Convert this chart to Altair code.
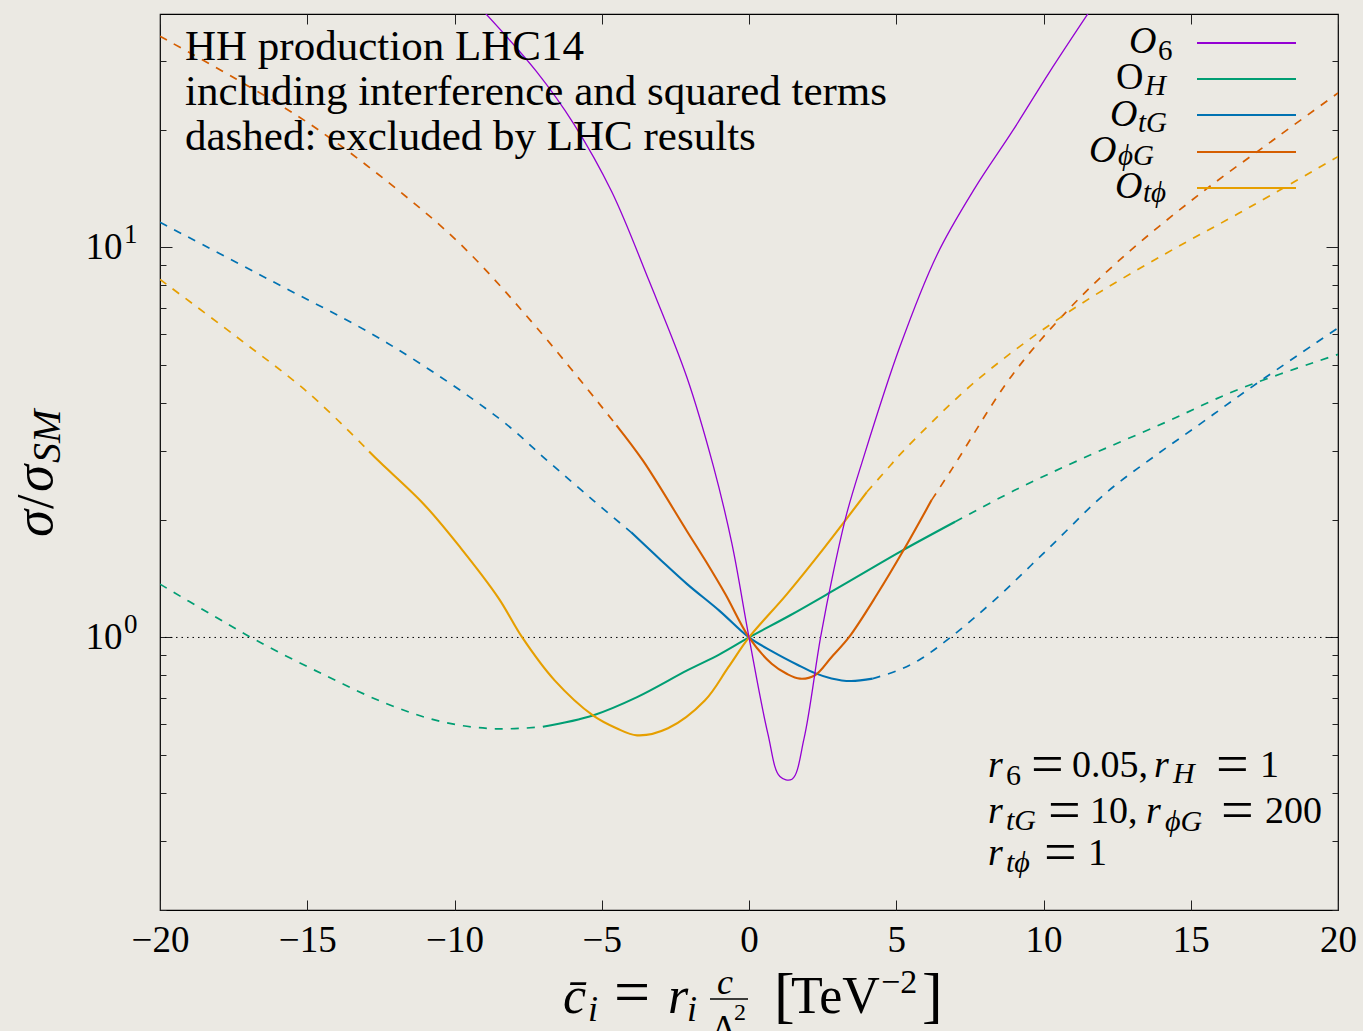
import altair as alt
import pandas as pd

# ---------------- data ----------------
SERIES = ["O6", "OH", "OtG", "OphiG", "Otphi"]
COLORS = ["#9400d3", "#009e73", "#0072b2", "#d55e00", "#e69f00"]

O6_x = [-9.1, -7.22, -5.94, -4.66, -3.39, -2.11, -1.21, -0.58, 0.0, 0.64, 1.05, 1.46, 1.87,
        2.43, 2.88, 3.32, 3.83, 5.11, 6.39, 7.67, 8.95, 10.22, 11.55]
O6_y = [41.0, 28.3, 20.7, 13.9, 8.2, 4.65, 2.75, 1.74, 1.0, 0.567, 0.44, 0.433, 0.551,
        1.0, 1.49, 2.08, 2.80, 5.53, 9.6, 14.2, 19.9, 28.3, 40.2]
O6_solid = (-100.0, 100.0)

OH_x = [-20.0, -18.3, -16.7, -14.4, -12.3, -10.4, -8.6, -7.0, -5.3, -3.8, -2.1, -1.0, 0.0,
        1.4, 2.8, 4.2, 5.2, 7.0, 9.0, 11.25, 14.1, 16.6, 20.0]
OH_y = [1.37, 1.15, 0.98, 0.80, 0.676, 0.607, 0.583, 0.59, 0.631, 0.703, 0.823, 0.905, 1.0,
        1.14, 1.31, 1.51, 1.67, 1.98, 2.38, 2.86, 3.55, 4.32, 5.32]
OH_solid = (-7.0, 7.0)

OtG_x = [-20.0, -16.2, -12.3, -8.5, -6.8, -5.3, -4.0, -3.0, -2.1, -1.0, 0.0, 0.8, 1.66, 2.24,
         2.8, 3.45, 4.2, 5.0, 5.75, 6.84, 8.3, 10.2, 12.1, 13.7, 15.3, 17.0, 20.0]
OtG_y = [11.6, 8.2, 5.70, 3.65, 2.82, 2.25, 1.86, 1.58, 1.37, 1.17, 1.0, 0.92, 0.85, 0.81,
         0.785, 0.773, 0.784, 0.82, 0.873, 1.0, 1.24, 1.70, 2.34, 2.89, 3.52, 4.35, 6.22]
OtG_solid = (-4.0, 4.2)

OphiG_x = [-20.0, -17.4, -14.9, -12.3, -9.8, -7.2, -4.5, -3.6, -2.1, -1.47, -0.8, 0.0, 0.77,
           1.28, 1.73, 2.24, 2.8, 3.39, 4.35, 5.24, 6.2, 6.9, 8.95, 10.9, 12.8, 15.3, 17.9, 20.0]
OphiG_y = [34.8, 27.0, 20.7, 14.8, 10.2, 6.22, 3.5, 2.84, 1.87, 1.57, 1.29, 1.0, 0.856,
           0.807, 0.784, 0.80, 0.89, 1.0, 1.29, 1.67, 2.25, 2.71, 4.72, 7.0, 9.6, 13.7, 19.1, 24.9]
OphiG_solid = (-4.5, 6.2)

Otphi_x = [-20.0, -17.4, -14.9, -12.9, -12.5, -11.05, -9.8, -8.5, -7.7, -6.6, -5.3, -4.5, -3.8,
           -2.75, -1.5, -0.7, 0.0, 1.28, 2.56, 4.0, 4.8, 5.1, 7.7, 10.9, 14.1, 16.6, 20.0]
Otphi_y = [8.28, 5.9, 4.2, 3.0, 2.80, 2.20, 1.70, 1.26, 1.0, 0.776, 0.631, 0.585, 0.561,
           0.585, 0.689, 0.839, 1.0, 1.29, 1.70, 2.36, 2.76, 2.93, 4.54, 6.87, 9.6, 12.2, 17.1]
Otphi_solid = (-12.9, 4.0)

X_TICKS = [-20, -15, -10, -5, 0, 5, 10, 15, 20]
Y_MAJOR = [1, 10]
Y_MINOR = [0.2, 0.3, 0.4, 0.5, 0.6, 0.7, 0.8, 0.9, 2, 3, 4, 5, 6, 7, 8, 9, 20, 30]
Y_MAJOR_EXP = ["0", "1"]

INFO_LINES = ["HH production LHC14",
              "including interference and squared terms",
              "dashed: excluded by LHC results"]

# ---------------- build table ----------------
def build(name, xs, ys, rng):
    lo, hi = rng
    rows = []
    for x, y in zip(xs, ys):
        if x <= lo:
            rows.append({"x": x, "y": y, "series": name, "seg": name + "_L", "style": "dashed"})
        if lo <= x <= hi:
            rows.append({"x": x, "y": y, "series": name, "seg": name + "_M", "style": "solid"})
        if x >= hi:
            rows.append({"x": x, "y": y, "series": name, "seg": name + "_R", "style": "dashed"})
    return rows

rows = []
rows += build("O6", O6_x, O6_y, O6_solid)
rows += build("OH", OH_x, OH_y, OH_solid)
rows += build("OtG", OtG_x, OtG_y, OtG_solid)
rows += build("OphiG", OphiG_x, OphiG_y, OphiG_solid)
rows += build("Otphi", Otphi_x, Otphi_y, Otphi_solid)
df = pd.DataFrame(rows)

FONT = "Liberation Serif"
BG = "#ebe9e3"
W, H = 1178, 896
OX, OY = 160, 14

xs = alt.Scale(domain=[-20, 20], nice=False, zero=False)
ys = alt.Scale(type="log", domain=[0.2, 39.7], nice=False)
color = alt.Color("series:N", scale=alt.Scale(domain=SERIES, range=COLORS), legend=None)

base = alt.Chart(df)
X = alt.X("x:Q", scale=xs, axis=None)
Y = alt.Y("y:Q", scale=ys, axis=None)
INTERP = "catmull-rom"

dashed = base.transform_filter("datum.style == 'dashed'").mark_line(
    strokeDash=[8, 8], strokeWidth=1.7, clip=True, interpolate=INTERP).encode(
    x=X, y=Y, color=color, detail="seg:N", order=alt.Order("x:Q"))
solid = base.transform_filter("datum.style == 'solid' && datum.series != 'O6'").mark_line(
    strokeWidth=2.1, clip=True, interpolate=INTERP).encode(
    x=X, y=Y, color=color, detail="seg:N", order=alt.Order("x:Q"))
o6 = base.transform_filter("datum.series == 'O6'").mark_line(
    strokeWidth=1.3, clip=True, interpolate=INTERP).encode(
    x=X, y=Y, color=color, detail="seg:N", order=alt.Order("x:Q"))

one = pd.DataFrame({"y": [1.0]})
dotted = alt.Chart(one).mark_rule(strokeDash=[1.5, 4], color="black", strokeWidth=1).encode(
    y=alt.Y("y:Q", scale=ys, axis=None))

# ---------------- axes (inward ticks via negative offset) ----------------
common = dict(domain=False, grid=False, tickColor="#222222", tickWidth=1, title=None,
              labelFont=FONT, labelFontSize=37, labelColor="black",
              labelOverlap=False, labelFlush=False, labelBound=False)
ax_bottom = alt.Axis(orient="bottom", values=X_TICKS, tickSize=10, offset=-10, labelPadding=12, **common)
ax_top = alt.Axis(orient="top", values=X_TICKS, tickSize=10, offset=-10, labels=False, **common)
ay_left_major = alt.Axis(orient="left", values=Y_MAJOR, tickSize=12, offset=-12, labelPadding=38,
                         labelExpr="'10'", **common)
ay_left_minor = alt.Axis(orient="left", values=Y_MINOR, tickSize=6, offset=-6, labels=False, **common)
ay_right_major = alt.Axis(orient="right", values=Y_MAJOR, tickSize=12, offset=-12, labels=False, **common)
ay_right_minor = alt.Axis(orient="right", values=Y_MINOR, tickSize=6, offset=-6, labels=False, **common)

def carrier(xaxis, yaxis):
    return alt.Chart(one).mark_point(opacity=0).encode(
        x=alt.X("x:Q", scale=xs, axis=xaxis), y=alt.Y("y:Q", scale=ys, axis=yaxis)
    ).transform_calculate(x="0")

carriers = [carrier(ax_bottom, ay_left_major), carrier(ax_top, ay_left_minor),
            carrier(None, ay_right_major), carrier(None, ay_right_minor)]

# exponents of the major y labels, placed through the y scale
exps = alt.Chart(pd.DataFrame({"y": Y_MAJOR, "e": Y_MAJOR_EXP})).mark_text(
    font=FONT, fontSize=27, align="left", baseline="alphabetic", dy=-4, color="black"
).encode(x=alt.value(124 - OX), y=alt.Y("y:Q", scale=ys, axis=None), text="e:N")

# ---------------- annotations ----------------
ONE = pd.DataFrame({"k": [0]})

def txt(s, x, y, size, italic=False, angle=None):
    kw = dict(text=s, font=FONT, fontSize=size, align="left", baseline="alphabetic", color="black")
    if italic:
        kw["fontStyle"] = "italic"
    if angle is not None:
        kw["angle"] = angle
    return alt.Chart(ONE).mark_text(**kw).encode(x=alt.value(x - OX), y=alt.value(y - OY))

def hline(x1, x2, y, col, w):
    return alt.Chart(ONE).mark_rule(color=col, strokeWidth=w).encode(
        x=alt.value(x1 - OX), x2=alt.value(x2 - OX), y=alt.value(y - OY))

ann = []
for i, line in enumerate(INFO_LINES):
    ann.append(txt(line, 185, 60 + 45 * i, 43))

# legend
LEG = [  # main, main_x, main_y, main_italic, sub, sub_x, sub_y, sub_italic, line_y
    ("O", 1129, 53, True, "6", 1158, 60, False, 43),
    ("O", 1116, 89, False, "H", 1145, 95, True, 79),
    ("O", 1110, 126, True, "tG", 1138, 132, True, 115),
    ("O", 1089, 162, True, "ϕG", 1118, 165, True, 152),
    ("O", 1115, 198, True, "tϕ", 1143, 202, True, 188),
]
for (m, mx, my, mi, s, sx, sy, si, ly), col in zip(LEG, COLORS):
    ann.append(txt(m, mx, my, 38, mi))
    ann.append(txt(s, sx, sy, 29, si))
    ann.append(hline(1197, 1296, ly, col, 2))

# parameter box
PARAMS = [
    ("r", 988, 777, 38, True), ("6", 1006, 785, 30, False), ("=", 1031, 783, 58, False),
    ("0.05,", 1072, 777, 38, False), ("r", 1154, 777, 38, True), ("H", 1173, 783, 30, True),
    ("=", 1216, 783, 58, False), ("1", 1260, 777, 38, False),
    ("r", 988, 823, 38, True), ("tG", 1006, 830, 30, True), ("=", 1048, 829, 58, False),
    ("10,", 1090, 823, 38, False), ("r", 1146, 823, 38, True), ("ϕG", 1165, 831, 30, True),
    ("=", 1221, 829, 58, False), ("200", 1265, 823, 38, False),
    ("r", 988, 865, 38, True), ("tϕ", 1006, 872, 30, True), ("=", 1044, 871, 58, False),
    ("1", 1088, 865, 38, False),
]
for s, x, y, sz, it in PARAMS:
    ann.append(txt(s, x, y, sz, it))

# x title
XT = [
    ("c\u0304", 563, 1013, 52, True), ("i", 588, 1021, 36, True), ("=", 614, 1013, 64, False),
    ("r", 668, 1013, 52, True), ("i", 687, 1021, 36, True), ("c", 717, 994, 36, True),
    ("Λ", 711, 1040, 36, False), ("2", 734, 1020, 24, False), ("[", 774, 1016, 62, False),
    ("TeV", 791, 1013, 52, False), ("−2", 881, 993, 34, False), ("]", 922, 1016, 62, False),
]
for s, x, y, sz, it in XT:
    ann.append(txt(s, x, y, sz, it))
ann.append(hline(710, 748, 999, "black", 1.5))

# y title (rotated)
YT = [("σ", 52, 537, 55, True), ("/", 53, 509, 52, False), ("σ", 52, 492, 55, True),
      ("SM", 60, 463, 40, True)]
for s, x, y, sz, it in YT:
    ann.append(txt(s, x, y, sz, it, angle=270))

chart = alt.layer(dotted, dashed, solid, o6, *carriers, exps, *ann).resolve_axis(
    x="independent", y="independent"
).properties(
    width=W, height=H,
    padding={"left": OX, "top": OY, "right": 1363 - OX - W, "bottom": 1031 - OY - H},
    autosize=alt.AutoSizeParams(type="none"),
).configure(background=BG, font=FONT).configure_view(stroke="black", strokeWidth=1.2)

chart.save("out.html", embed_options={"renderer": "svg", "actions": False})
